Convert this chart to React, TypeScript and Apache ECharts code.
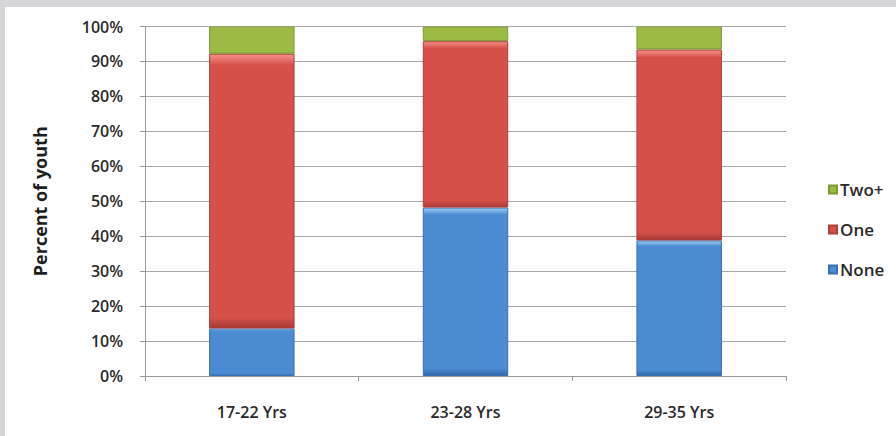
import React, { useEffect, useRef } from "react";
import * as echarts from "echarts";

const categories = ["17-22 Yrs", "23-28 Yrs", "29-35 Yrs"];
const noneValues = [13.6, 48.2, 38.8];
const oneValues = [78.6, 47.6, 54.6];
const twoPlusValues = [7.8, 4.2, 6.6];
const yTicks = [0, 10, 20, 30, 40, 50, 60, 70, 80, 90, 100];

const FONT = "'Open Sans', 'Noto Sans', sans-serif";

function bevel(top: string, mid: string, bottom: string) {
  return new echarts.graphic.LinearGradient(0, 0, 0, 1, [
    { offset: 0, color: top },
    { offset: 0.04, color: mid },
    { offset: 0.96, color: mid },
    { offset: 1, color: bottom },
  ]);
}

export default function App() {
  const ref = useRef<HTMLDivElement>(null);

  useEffect(() => {
    if (!ref.current) return;
    const chart = echarts.init(ref.current, undefined, { renderer: "svg" });
    const barWidth = "40%";
    chart.setOption({
      animation: false,
      backgroundColor: "#ffffff",
      grid: { left: 140, right: 110, top: 19.5, bottom: 60, containLabel: false },
      legend: {
        orient: "vertical",
        left: 818,
        top: 169,
        itemGap: 23,
        itemWidth: 8,
        itemHeight: 8,
        icon: "rect",
        data: ["Two+", "One", "None"],
        textStyle: {
          fontFamily: FONT,
          fontSize: 17,
          lineHeight: 17,
          fontWeight: 600,
          color: "#2a2a2a",
          padding: [0, 0, 0, -2],
        },
      },
      xAxis: {
        type: "category",
        data: categories,
        axisLine: { lineStyle: { color: "#9a9a9a", width: 1 } },
        axisTick: { show: true, length: 5, lineStyle: { color: "#9a9a9a" } },
        axisLabel: { fontFamily: FONT, fontSize: 16, fontWeight: 600, color: "#2a2a2a", margin: 28 },
      },
      yAxis: {
        type: "value",
        min: yTicks[0],
        max: yTicks[yTicks.length - 1],
        interval: 10,
        name: "Percent of youth",
        nameLocation: "middle",
        nameGap: 96,
        nameTextStyle: { fontFamily: FONT, fontSize: 18, fontWeight: 700, color: "#1e1e1e" },
        axisLine: { show: true, lineStyle: { color: "#9a9a9a", width: 1 } },
        axisTick: { show: true, length: 5, lineStyle: { color: "#9a9a9a" } },
        axisLabel: {
          fontFamily: FONT,
          fontSize: 16,
          fontWeight: 600,
          color: "#2a2a2a",
          margin: 22,
          formatter: (v: number) => `${v}%`,
        },
        splitLine: { lineStyle: { color: "#a8a8a8", width: 1 } },
      },
      series: [
        {
          name: "None",
          type: "bar",
          stack: "total",
          barWidth,
          data: noneValues,
          itemStyle: {
            color: bevel("#9fd0f5", "#4a8bd2", "#2e66a8"),
            borderColor: "#3a6fb0",
            borderWidth: 1,
          },
        },
        {
          name: "One",
          type: "bar",
          stack: "total",
          barWidth,
          data: oneValues,
          itemStyle: {
            color: bevel("#f5938a", "#d6504a", "#a83a33"),
            borderColor: "#b03e38",
            borderWidth: 1,
          },
        },
        {
          name: "Two+",
          type: "bar",
          stack: "total",
          barWidth,
          data: twoPlusValues,
          itemStyle: {
            color: bevel("#cfe38e", "#9bbb45", "#6f8a2c"),
            borderColor: "#7f9a35",
            borderWidth: 1,
          },
        },
      ],
      color: ["#4a8bd2", "#d6504a", "#9bbb45"],
    });
    return () => chart.dispose();
  }, []);

  return (
    <div
      style={{
        position: "fixed",
        left: 0,
        top: 0,
        width: 896,
        height: 436,
        background: "#d6d6d8",
      }}
    >
      <div
        ref={ref}
        style={{ position: "absolute", left: 5, top: 7, width: 891, height: 429 }}
      />
    </div>
  );
}
